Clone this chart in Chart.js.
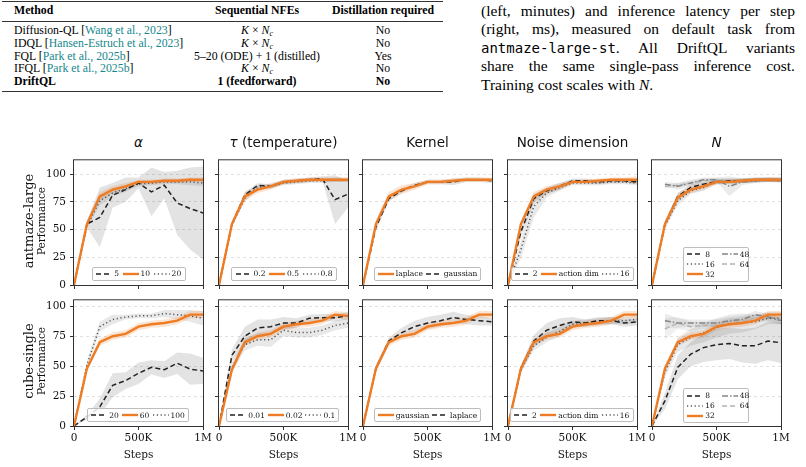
<!DOCTYPE html>
<html>
<head>
<meta charset="utf-8">
<script src="https://cdn.jsdelivr.net/npm/chart.js@4.4.1/dist/chart.umd.min.js"></script>
<style>
body { margin: 0; width: 806px; height: 467px; position: relative; overflow: hidden; background: #fff; color: #222; font-family: 'DejaVu Serif', serif; }
.rule { position: absolute; left: 2px; width: 441px; background: #333; }
.tb { position: absolute; white-space: nowrap; font-family: 'Liberation Serif', 'Times New Roman', serif; font-size: 11.8px; line-height: 13px; color: #000; }
.ctr { transform: translateX(-50%); }
.cite { color: #16878d; }
.tb sub { font-size: 8px; vertical-align: -2px; line-height: 0; }
.txt { position: absolute; left: 481px; width: 314px; font-family: 'Liberation Serif', 'Times New Roman', serif; font-size: 15.5px; line-height: 18px; text-align: justify; text-align-last: justify; white-space: nowrap; color: #000; }
.mono { font-family: 'DejaVu Sans Mono', monospace; font-size: 14px; }
.title { position: absolute; font-family: 'DejaVu Sans', sans-serif; font-size: 13.5px; line-height: 16px; transform: translateX(-50%); white-space: nowrap; color: #111; }
.rowlab { position: absolute; white-space: nowrap; transform: translate(-50%, -50%) rotate(-90deg); color: #111; }
.steps { position: absolute; font-size: 10.5px; line-height: 12px; transform: translateX(-50%); color: #111; }
.leg { position: absolute; box-sizing: border-box; border: 0.8px solid #bdbdbd; border-radius: 2px; background: rgba(255,255,255,0.85); display: flex; justify-content: space-evenly; align-items: center; height: 14px; font-size: 7.5px; line-height: 9px; color: #111; }
.leg .it { display: flex; align-items: center; gap: 2px; }
.leg2 { display: grid; grid-template-rows: repeat(3, 10px); grid-auto-flow: column; height: 35px; padding: 1px 3px; justify-content: start; column-gap: 7px; align-content: center; }
</style>
</head>
<body>

<!-- table -->
<div class="rule" style="top:1px;height:1.4px"></div>
<div class="rule" style="top:20.5px;height:0.9px"></div>
<div class="rule" style="top:91px;height:1.4px"></div>
<div class="tb" style="left:14px;top:3.5px"><b>Method</b></div>
<div class="tb ctr" style="left:257px;top:3.5px"><b>Sequential NFEs</b></div>
<div class="tb ctr" style="left:383px;top:3.5px"><b>Distillation required</b></div>

<div class="tb" style="left:14px;top:23.5px">Diffusion-QL [<span class="cite">Wang et al., 2023</span>]</div>
<div class="tb ctr" style="left:257px;top:23.5px"><i>K</i> × <i>N<sub>c</sub></i></div>
<div class="tb ctr" style="left:383px;top:23.5px">No</div>

<div class="tb" style="left:14px;top:36.5px">IDQL [<span class="cite">Hansen-Estruch et al., 2023</span>]</div>
<div class="tb ctr" style="left:257px;top:36.5px"><i>K</i> × <i>N<sub>c</sub></i></div>
<div class="tb ctr" style="left:383px;top:36.5px">No</div>

<div class="tb" style="left:14px;top:49.5px">FQL [<span class="cite">Park et al., 2025b</span>]</div>
<div class="tb ctr" style="left:257px;top:49.5px">5–20 (ODE) + 1 (distilled)</div>
<div class="tb ctr" style="left:383px;top:49.5px">Yes</div>

<div class="tb" style="left:14px;top:62px">IFQL [<span class="cite">Park et al., 2025b</span>]</div>
<div class="tb ctr" style="left:257px;top:62px"><i>K</i> × <i>N<sub>c</sub></i></div>
<div class="tb ctr" style="left:383px;top:62px">No</div>

<div class="tb" style="left:14px;top:74.5px"><b>DriftQL</b></div>
<div class="tb ctr" style="left:257px;top:74.5px"><b>1 (feedforward)</b></div>
<div class="tb ctr" style="left:383px;top:74.5px"><b>No</b></div>

<!-- caption text -->
<div class="txt" style="top:2px">(left, minutes) and inference latency per step</div>
<div class="txt" style="top:20px">(right, ms), measured on default task from</div>
<div class="txt" style="top:38.5px"><span class="mono">antmaze-large-st</span>. All DriftQL variants</div>
<div class="txt" style="top:57px">share the same single-pass inference cost.</div>
<div class="txt" style="top:76px;text-align-last:left">Training cost scales with <i>N</i>.</div>

<script>
// x positions shared by every curve
const steps = [0, 100000, 200000, 300000, 400000, 500000, 600000, 700000, 800000, 900000, 1000000];
const xTickLabels = ['0', '500K', '1M'];
const rowNames = ['antmaze-large', 'cube-single'];
const colTitles = ['<i>α</i>', '<i>τ</i> (temperature)', 'Kernel', 'Noise dimension', '<i>N</i>'];

// ---- antmaze-large ----
const amAlphaLabels = ['5', '10', '20'];
const amAlphaMean = [
  [0, 55, 61, 81, 86, 92, 84, 90, 74, 69, 65],
  [0, 55, 80, 86, 89, 93, 93, 94, 94, 95, 95],
  [0, 53, 76, 83, 87, 91, 92, 93, 93, 93, 92]
];
const amAlphaStd = [
  [0, 3, 27, 11, 11, 5, 22, 12, 29, 37, 42],
  [0, 2, 4, 3, 3, 2, 2, 2, 2, 2, 2],
  [0, 2, 4, 3, 3, 2, 2, 2, 2, 3, 3]
];

const amTauLabels = ['0.2', '0.5', '0.8'];
const amTauMean = [
  [0, 55, 81, 90, 89, 93, 94, 95, 96, 77, 82],
  [0, 55, 80, 86, 89, 93, 94, 95, 95, 95, 95],
  [0, 54, 78, 88, 89, 92, 93, 94, 94, 95, 95]
];
const amTauStd = [
  [0, 2, 3, 2, 2, 2, 2, 2, 2, 22, 12],
  [0, 2, 4, 3, 3, 2, 2, 2, 2, 2, 2],
  [0, 2, 3, 2, 2, 2, 2, 2, 2, 2, 2]
];

const amKernelLabels = ['laplace', 'gaussian'];
const amKernelMean = [
  [0, 55, 80, 86, 89, 93, 93, 94, 95, 95, 95],
  [0, 52, 78, 85, 90, 93, 93, 93, 95, 95, 94]
];
const amKernelStd = [
  [0, 3, 4, 4, 3, 2, 2, 2, 2, 2, 2],
  [0, 3, 3, 2, 2, 2, 2, 3, 2, 2, 2]
];

const amNoiseLabels = ['2', 'action dim', '16'];
const amNoiseMean = [
  [0, 48, 78, 85, 89, 94, 94, 93, 94, 94, 93],
  [0, 55, 80, 86, 89, 93, 93, 94, 95, 95, 95],
  [0, 32, 71, 83, 88, 92, 92, 92, 93, 93, 92]
];
const amNoiseStd = [
  [0, 5, 4, 3, 3, 2, 2, 2, 2, 2, 2],
  [0, 2, 4, 3, 3, 2, 2, 2, 2, 2, 3],
  [0, 8, 10, 4, 3, 2, 2, 2, 2, 2, 2]
];

const amNLabels = ['8', '16', '32', '48', '64'];
const amNMean = [
  [0, 55, 80, 88, 91, 93, 94, 94, 95, 95, 95],
  [0, 53, 76, 85, 88, 93, 93, 94, 94, 95, 94],
  [0, 55, 79, 86, 89, 93, 93, 94, 95, 95, 95],
  [null, 91, 89, 92, 95, 95, 89, 93, 94, 95, 95],
  [null, 89, 90, 92, 94, 95, 94, 94, 95, 95, 95]
];
const amNStd = [
  [0, 3, 3, 3, 2, 2, 2, 2, 2, 2, 2],
  [0, 3, 4, 3, 3, 2, 2, 2, 2, 2, 2],
  [0, 2, 4, 3, 3, 2, 2, 2, 2, 2, 2],
  [null, 2, 3, 3, 2, 2, 9, 3, 2, 2, 2],
  [null, 2, 2, 2, 2, 2, 2, 2, 2, 2, 2]
];

// ---- cube-single ----
const csAlphaLabels = ['20', '60', '100'];
const csAlphaMean = [
  [0, 7.5, 16, 34, 38, 44, 49, 47, 52.5, 47.5, 46],
  [0, 48, 70, 75, 77, 83, 85, 86, 88, 93, 93],
  [0, 51, 83, 89, 91, 92, 92, 94, 93, 92, 90]
];
const csAlphaStd = [
  [0, 2, 7, 10, 7, 9, 6, 7, 9, 13, 11],
  [0, 3, 3, 3, 3, 3, 3, 3, 3, 3, 3],
  [0, 3, 4, 4, 2, 2, 2, 3, 4, 5, 6]
];

const csTauLabels = ['0.01', '0.02', '0.1'];
const csTauMean = [
  [0, 59, 75, 82, 83, 86, 86, 90, 90.5, 90.5, 92],
  [0, 47, 70, 75, 77, 83, 85, 86, 88, 93, 92],
  [0, 49, 68, 72, 72, 80, 78, 78, 80, 84, 86]
];
const csTauStd = [
  [0, 5, 8, 7, 6, 5, 4, 3, 3, 3, 3],
  [0, 3, 3, 3, 3, 3, 3, 3, 3, 3, 3],
  [0, 4, 5, 5, 6, 5, 4, 4, 4, 4, 4]
];

const csKernelLabels = ['gaussian', 'laplace'];
const csKernelMean = [
  [0, 48, 70, 75, 77, 83, 85, 86, 88, 93, 93],
  [0, 48, 71, 78, 83, 86, 88, 90.5, 89, 88, 87]
];
const csKernelStd = [
  [0, 3, 3, 3, 3, 3, 3, 3, 3, 3, 3],
  [0, 3, 3, 4, 5, 5, 5, 5, 4, 4, 3]
];

const csNoiseLabels = ['2', 'action dim', '16'];
const csNoiseMean = [
  [0, 48, 71, 80, 84, 87, 86, 88, 88, 86, 87],
  [0, 48, 70, 75, 77, 83, 85, 86, 88, 93, 93],
  [0, 47, 67, 74, 79, 85, 86, 87, 88, 88, 89]
];
const csNoiseStd = [
  [0, 3, 5, 6, 6, 4, 3, 3, 3, 3, 3],
  [0, 3, 3, 3, 3, 3, 3, 3, 3, 3, 3],
  [0, 3, 4, 4, 4, 3, 3, 3, 3, 3, 3]
];

const csNLabels = ['8', '16', '32', '48', '64'];
const csNMean = [
  [0, 21, 49, 60, 65.5, 68, 69, 67, 67, 71, 69.5],
  [0, 45, 68, 74, 78, 82, 85, 86, 87, 90, 90],
  [0, 48, 70, 75, 77, 83, 85, 86, 88, 93, 93],
  [null, 88, 86, 86, 86, 86, 88, 89, 93, 91, 88],
  [null, 81, 86, 83, 84, 84, 87, 88, 90, 90, 88]
];
const csNStd = [
  [0, 7, 10, 10, 12, 13, 13, 14, 15, 16, 17],
  [0, 4, 6, 7, 8, 8, 8, 8, 6, 5, 5],
  [0, 3, 3, 3, 3, 3, 3, 3, 3, 3, 3],
  [null, 6, 4, 3, 3, 3, 3, 3, 3, 3, 3],
  [null, 9, 5, 4, 3, 3, 3, 3, 3, 3, 3]
];

// line looks
const ST = {
  dash:    { color: '#222222', width: 1.5, dash: [5, 3],          band: 'rgba(0,0,0,0.11)' },
  orange:  { color: '#ee7c24', width: 2.4, dash: [],              band: 'rgba(240,130,50,0.22)' },
  dot:     { color: '#555555', width: 1.5, dash: [1.2, 2.6],      band: 'rgba(0,0,0,0.09)' },
  dashdot: { color: '#858585', width: 1.5, dash: [6, 2, 1.5, 2],  band: 'rgba(0,0,0,0.08)' },
  light:   { color: '#b3b3b3', width: 1.5, dash: [5, 3],          band: 'rgba(0,0,0,0.06)' }
};

const panels = [
  { row: 0, col: 0, labels: amAlphaLabels,  mean: amAlphaMean,  std: amAlphaStd,  styles: ['dash', 'orange', 'dot'], leg: [17.7, 4.3, 94] },
  { row: 0, col: 1, labels: amTauLabels,    mean: amTauMean,    std: amTauStd,    styles: ['dash', 'orange', 'dot'], leg: [12, 4.3, 106] },
  { row: 0, col: 2, labels: amKernelLabels, mean: amKernelMean, std: amKernelStd, styles: ['orange', 'dash'], leg: [11, 4.3, 107] },
  { row: 0, col: 3, labels: amNoiseLabels,  mean: amNoiseMean,  std: amNoiseStd,  styles: ['dash', 'orange', 'dot'], leg: [2.7, 4.3, 123] },
  { row: 0, col: 4, labels: amNLabels,      mean: amNMean,      std: amNStd,      styles: ['dash', 'dot', 'orange', 'dashdot', 'light'], leg: [31.3, 3.3, 66], ncol: 2 },
  { row: 1, col: 0, labels: csAlphaLabels,  mean: csAlphaMean,  std: csAlphaStd,  styles: ['dash', 'orange', 'dot'], leg: [13, 4, 102] },
  { row: 1, col: 1, labels: csTauLabels,    mean: csTauMean,    std: csTauStd,    styles: ['dash', 'orange', 'dot'], leg: [7.3, 4, 113] },
  { row: 1, col: 2, labels: csKernelLabels, mean: csKernelMean, std: csKernelStd, styles: ['orange', 'dash'], leg: [11, 4, 107] },
  { row: 1, col: 3, labels: csNoiseLabels,  mean: csNoiseMean,  std: csNoiseStd,  styles: ['dash', 'orange', 'dot'], leg: [1.7, 4, 124] },
  { row: 1, col: 4, labels: csNLabels,      mean: csNMean,      std: csNStd,      styles: ['dash', 'dot', 'orange', 'dashdot', 'light'], leg: [31.3, 3, 66], ncol: 2 }
];

const rowTop = [156, 296];
const rowH = [129, 130];
const rowMax = [112.5, 105];
const plotW = 129, padL = 45, padT = 6, padR = 16, xAxisH = 20;

Chart.defaults.font.family = "'DejaVu Serif', serif";
Chart.defaults.color = '#111';

// box round each panel, like matplotlib spines
const framePlugin = {
  id: 'frame',
  afterDraw(chart) {
    const { ctx, chartArea: a } = chart;
    ctx.save();
    ctx.strokeStyle = '#333';
    ctx.lineWidth = 1;
    ctx.strokeRect(a.left - 0.5, a.top - 0.5, a.right - a.left + 1, a.bottom - a.top + 1);
    ctx.restore();
  }
};

const pts = vals => steps.map((x, i) => ({ x: x, y: vals[i] }));

function addDiv(cls, html, css) {
  const d = document.createElement('div');
  d.className = cls;
  d.innerHTML = html;
  d.style.cssText = css;
  document.body.appendChild(d);
  return d;
}

panels.forEach(p => {
  const cvLeft = Math.round(74 + 144.5 * p.col - padL);
  const plotLeft = cvLeft + padL;
  const plotTop = rowTop[p.row];
  const plotH = rowH[p.row];
  const W = padL + plotW + padR;
  const H = padT + plotH + xAxisH;

  const cv = document.createElement('canvas');
  cv.width = W;
  cv.height = H;
  cv.style.cssText = `position:absolute;left:${cvLeft}px;top:${plotTop - padT}px;width:${W}px;height:${H}px`;
  document.body.appendChild(cv);

  const datasets = [];
  p.labels.forEach((lab, i) => {
    const st = ST[p.styles[i]];
    const hi = p.mean[i].map((m, k) => m == null ? null : m + p.std[i][k]);
    const lo = p.mean[i].map((m, k) => m == null ? null : m - p.std[i][k]);
    datasets.push({ label: lab + ' hi', data: pts(hi), borderWidth: 0, borderColor: 'transparent', backgroundColor: st.band, pointRadius: 0, fill: '+1', order: 20 });
    datasets.push({ label: lab + ' lo', data: pts(lo), borderWidth: 0, borderColor: 'transparent', pointRadius: 0, fill: false, order: 20 });
    datasets.push({
      label: lab, data: pts(p.mean[i]), borderColor: st.color, borderWidth: st.width, borderDash: st.dash,
      pointRadius: 0, fill: false, tension: 0, order: p.styles[i] === 'orange' ? 0 : 1 + i
    });
  });

  new Chart(cv, {
    type: 'line',
    data: { datasets: datasets },
    options: {
      responsive: false,
      animation: false,
      devicePixelRatio: 1,
      layout: { autoPadding: false, padding: { left: 0, top: padT, right: padR, bottom: 0 } },
      plugins: { legend: { display: false }, tooltip: { enabled: false } },
      scales: {
        x: {
          type: 'linear', min: 0, max: 1000000,
          afterFit: s => { s.height = xAxisH; },
          border: { display: false },
          grid: { drawOnChartArea: false, drawTicks: true, tickLength: 4, tickColor: '#333', tickWidth: 1 },
          ticks: {
            stepSize: 500000, maxRotation: 0, autoSkip: false, padding: 2,
            font: { size: 10.5 },
            color: p.row === 1 ? '#111' : 'rgba(0,0,0,0)',
            callback: v => xTickLabels[Math.round(v / 500000)]
          }
        },
        y: {
          min: 0, max: rowMax[p.row],
          afterFit: s => { s.width = padL; },
          border: { display: false, dash: [3, 3] },
          grid: { color: '#d9d9d9', lineWidth: 0.8, tickColor: '#333', tickLength: 4, tickWidth: 1, tickBorderDash: [] },
          ticks: {
            stepSize: 25, includeBounds: false, padding: 4,
            font: { size: 10.5 },
            color: p.col === 0 ? '#111' : 'rgba(0,0,0,0)'
          }
        }
      }
    },
    plugins: [framePlugin]
  });

  // legend box inside the plot
  const lg = document.createElement('div');
  lg.className = p.ncol ? 'leg leg2' : 'leg';
  lg.style.left = (plotLeft + p.leg[0]) + 'px';
  lg.style.bottom = (467 - (plotTop + plotH) + p.leg[1]) + 'px';
  lg.style.width = p.leg[2] + 'px';
  p.labels.forEach((lab, i) => {
    const st = ST[p.styles[i]];
    const it = document.createElement('div');
    it.className = 'it';
    it.innerHTML = `<svg width="16" height="6"><line x1="0" y1="3" x2="16" y2="3" stroke="${st.color}" stroke-width="${st.width}" stroke-dasharray="${st.dash.join(' ')}"/></svg><span>${lab}</span>`;
    lg.appendChild(it);
  });
  document.body.appendChild(lg);

  if (p.row === 0) {
    addDiv('title', colTitles[p.col], `left:${plotLeft + plotW / 2}px;top:134px`);
  } else {
    addDiv('steps', 'Steps', `left:${plotLeft + plotW / 2}px;top:448px`);
  }
});

// row labels
rowNames.forEach((name, r) => {
  const cy = rowTop[r] + rowH[r] / 2;
  addDiv('rowlab', name, `left:27.5px;top:${cy}px;font-size:13px`);
  addDiv('rowlab', 'Performance', `left:40.5px;top:${cy}px;font-size:10.5px`);
});
</script>
</body>
</html>
